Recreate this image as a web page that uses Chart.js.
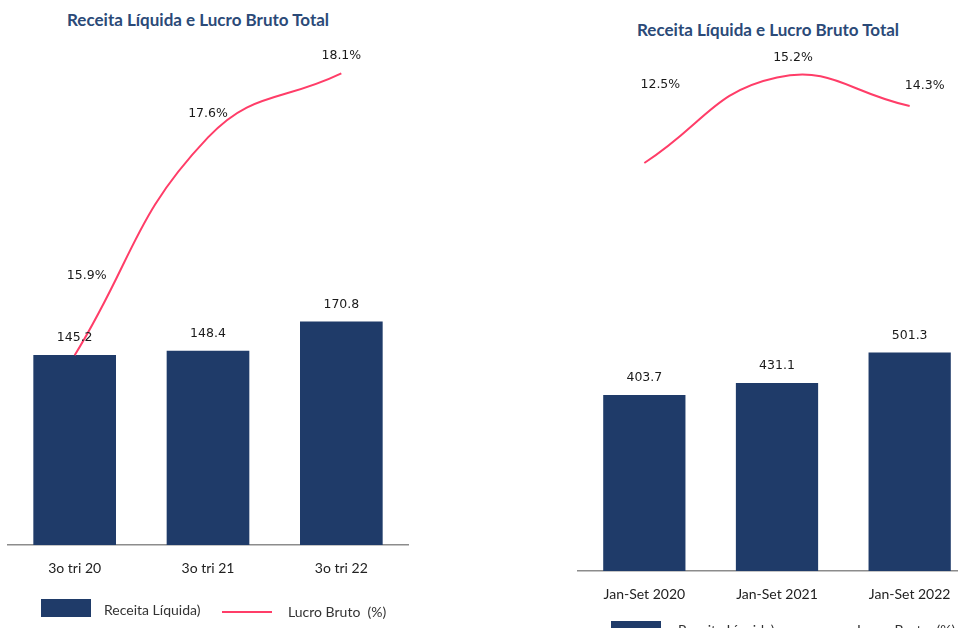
<!DOCTYPE html>
<html>
<head>
<meta charset="utf-8">
<script src="https://cdn.jsdelivr.net/npm/chart.js@4/dist/chart.umd.min.js"></script>
<style>
  html, body { margin:0; padding:0; background:#fff; overflow:hidden; width:958px; height:628px; position:relative; }
  canvas { position:absolute; top:0; }
  .title { position:absolute; font:bold 17px Lato, sans-serif; color:#2b4a78; white-space:nowrap; line-height:18px; }
  .lg { position:absolute; font:14px Lato, sans-serif; color:#333; white-space:nowrap; line-height:16px; }
  .sw { position:absolute; width:50px; height:18px; background:#1f3b69; }
  .ln { position:absolute; width:50px; height:2px; background:#ff3d68; }
</style>
</head>
<body>
<div class="title" style="left:67px;top:11px">Receita Líquida e Lucro Bruto Total</div>
<div class="title" style="left:637px;top:21px">Receita Líquida e Lucro Bruto Total</div>

<canvas id="chartTri" width="420" height="628" style="left:0"></canvas>
<canvas id="chartAno" width="420" height="628" style="left:560px"></canvas>

<div class="sw" style="left:41px;top:599px"></div>
<div class="lg" style="left:104px;top:602px">Receita Líquida)</div>
<div class="ln" style="left:222px;top:611px"></div>
<div class="lg" style="left:288px;top:604px">Lucro Bruto&nbsp; (%)</div>

<div class="sw" style="left:611px;top:621px"></div>
<div class="lg" style="left:678px;top:622px">Receita Líquida)</div>
<div class="ln" style="left:792px;top:633px"></div>
<div class="lg" style="left:857px;top:622px">Lucro Bruto&nbsp; (%)</div>

<script>
// trimestre
var triLabels = ['3o tri 20', '3o tri 21', '3o tri 22'];
var triReceita = [145.2, 148.4, 170.8];
var triLucro = [15.9, 17.6, 18.1];

// acumulado jan-set
var anoLabels = ['Jan-Set 2020', 'Jan-Set 2021', 'Jan-Set 2022'];
var anoReceita = [403.7, 431.1, 501.3];
var anoLucro = [12.5, 15.2, 14.3];

var navy = '#1f3b69';
var pink = '#ff3d68';

// writes the numbers above bars and points
var valueLabels = {
  id: 'valueLabels',
  afterDatasetsDraw: function(chart, args, opts) {
    var ctx = chart.ctx;
    ctx.save();
    ctx.font = '12.5px "DejaVu Sans", sans-serif';
    ctx.fillStyle = '#1a1a1a';
    ctx.textAlign = 'center';
    ctx.textBaseline = 'middle';
    chart.data.datasets.forEach(function(ds, i) {
      var meta = chart.getDatasetMeta(i);
      meta.data.forEach(function(el, j) {
        var v = ds.data[j];
        if (ds.type === 'line') {
          var off = opts.lineOffsets[j];
          ctx.fillText(v.toFixed(1) + '%', el.x + off[0], el.y + off[1]);
        } else {
          ctx.fillText(v.toFixed(1), el.x, el.y - 17);
        }
      });
    });
    ctx.restore();
  }
};

function drawChart(id, labels, receita, lucro, opt) {
  var ctx = document.getElementById(id).getContext('2d');
  return new Chart(ctx, {
    type: 'bar',
    data: {
      labels: labels,
      datasets: [{
        type: 'line',
        label: 'Lucro Bruto  (%)',
        data: lucro,
        yAxisID: 'y2',
        borderColor: pink,
        borderWidth: 2,
        pointRadius: 0,
        tension: 0.45,
        fill: false,
        order: 0
      }, {
        type: 'bar',
        label: 'Receita Líquida)',
        data: receita,
        yAxisID: 'y',
        backgroundColor: navy,
        barPercentage: 0.62,
        categoryPercentage: 1,
        order: 1
      }]
    },
    options: {
      responsive: false,
      animation: false,
      devicePixelRatio: 1,
      layout: { padding: opt.padding },
      plugins: {
        legend: { display: false },
        tooltip: { enabled: false },
        valueLabels: { lineOffsets: opt.lineOffsets }
      },
      scales: {
        x: {
          grid: { display: false },
          border: { display: true, color: '#8c8c8c', width: 1.5 },
          ticks: {
            color: '#222',
            padding: 7,
            font: { family: 'Lato', size: 14 }
          },
          afterFit: function(scale) { scale.height = 40; }
        },
        y: { display: false, min: 0, max: opt.yMax },
        y2: { display: false, min: opt.y2Min, max: opt.y2Max }
      }
    },
    plugins: [valueLabels]
  });
}

drawChart('chartTri', triLabels, triReceita, triLucro, {
  padding: { left: 8, right: 12, top: 40, bottom: 43 },
  yMax: 386,
  y2Min: 14.42,
  y2Max: 18.36,
  lineOffsets: [[12, -80], [0, -24], [0, -18]]
});

drawChart('chartAno', anoLabels, anoReceita, anoLucro, {
  padding: { left: 18, right: 4, top: 40, bottom: 17 },
  yMax: 1218,
  y2Min: -0.37,
  y2Max: 16.38,
  lineOffsets: [[16, -78], [16, -20], [15, -20]]
});
</script>
</body>
</html>
